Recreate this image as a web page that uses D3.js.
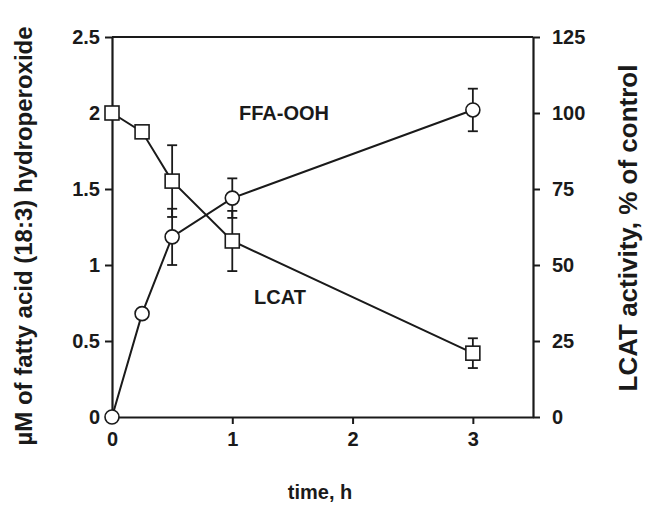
<!DOCTYPE html>
<html>
<head>
<meta charset="utf-8">
<script src="https://cdn.jsdelivr.net/npm/d3@7/dist/d3.min.js"></script>
<style>
  html, body { margin: 0; padding: 0; background: #fff; }
  svg text { font-family: "Liberation Sans", Arial, Helvetica, sans-serif; font-weight: bold; fill: #1a1a1a; }
</style>
</head>
<body>
<svg id="chart" width="647" height="510"></svg>
<script>
// ---- data ----
const time = [0, 0.25, 0.5, 1, 3];
const ffaOOH = [0, 0.68, 1.185, 1.44, 2.02];          // left axis, µM
const ffaErr = [null, null, 0.185, 0.13, 0.14];
const lcat = [100, 93.8, 77.6, 57.9, 21];               // right axis, % of control
const lcatErr = [null, null, 11.8, 9.9, 4.9];
const xTicks = [0, 1, 2, 3];
const yLeftTicks = [0, 0.5, 1, 1.5, 2, 2.5];
const yLeftLabels = ["0", "0.5", "1", "1.5", "2", "2.5"];
const yRightTicks = [0, 25, 50, 75, 100, 125];

const svg = d3.select("#chart");
const L = 112, R = 533, T = 37, B = 417;
const x = d3.scaleLinear().domain([0, 3.5]).range([L, R]);
const yL = d3.scaleLinear().domain([0, 2.5]).range([B, T]);
const yR = d3.scaleLinear().domain([0, 125]).range([B, T]);
const ink = "#1a1a1a";

// frame top line
svg.append("line").attr("x1", L).attr("x2", R).attr("y1", T).attr("y2", T)
  .attr("stroke", ink).attr("stroke-width", 2.2);

function styleAxis(g) {
  g.select(".domain").attr("stroke", ink).attr("stroke-width", 2.2);
  g.selectAll(".tick line").attr("stroke", ink).attr("stroke-width", 2);
  g.selectAll(".tick text").attr("fill", ink).style("font-size", "20px").style("font-weight", "bold");
}

svg.append("g").attr("transform", `translate(0,${B})`)
  .call(d3.axisBottom(x).tickValues(xTicks).tickFormat(d3.format("d")).tickSizeInner(7).tickSizeOuter(0).tickPadding(8))
  .call(styleAxis);

svg.append("g").attr("transform", `translate(${L},0)`)
  .call(d3.axisLeft(yL).tickValues(yLeftTicks).tickFormat((d, i) => yLeftLabels[i]).tickSizeInner(7).tickSizeOuter(0).tickPadding(5))
  .call(styleAxis);

svg.append("g").attr("transform", `translate(${R},0)`)
  .call(d3.axisRight(yR).tickValues(yRightTicks).tickFormat(d3.format("d")).tickSizeInner(7).tickSizeOuter(0).tickPadding(12))
  .call(styleAxis);

// lines
const ffaPts = time.map((t, i) => ({ t, v: ffaOOH[i], e: ffaErr[i] }));
const lcatPts = time.map((t, i) => ({ t, v: lcat[i], e: lcatErr[i] }));

svg.append("path").datum(ffaPts)
  .attr("d", d3.line().x(d => x(d.t)).y(d => yL(d.v)))
  .attr("fill", "none").attr("stroke", ink).attr("stroke-width", 2);
svg.append("path").datum(lcatPts)
  .attr("d", d3.line().x(d => x(d.t)).y(d => yR(d.v)))
  .attr("fill", "none").attr("stroke", ink).attr("stroke-width", 2);

// error bars
function errBars(pts, scale) {
  const g = svg.append("g").attr("stroke", ink).attr("stroke-width", 1.8);
  pts.filter(d => d.e != null).forEach(d => {
    const cx = x(d.t);
    const lo = scale(d.v - d.e), hi = scale(d.v + d.e);
    g.append("line").attr("x1", cx).attr("x2", cx).attr("y1", lo).attr("y2", hi);
    g.append("line").attr("x1", cx - 5).attr("x2", cx + 5).attr("y1", lo).attr("y2", lo);
    g.append("line").attr("x1", cx - 5).attr("x2", cx + 5).attr("y1", hi).attr("y2", hi);
  });
}
errBars(ffaPts, yL);
errBars(lcatPts, yR);

// markers
svg.append("g").selectAll("rect").data(lcatPts).join("rect")
  .attr("x", d => x(d.t) - 7).attr("y", d => yR(d.v) - 7)
  .attr("width", 14).attr("height", 14)
  .attr("fill", "#fff").attr("stroke", ink).attr("stroke-width", 1.6);
svg.append("g").selectAll("circle").data(ffaPts).join("circle")
  .attr("cx", d => x(d.t)).attr("cy", d => yL(d.v)).attr("r", 7)
  .attr("fill", "#fff").attr("stroke", ink).attr("stroke-width", 1.6);

// series labels
svg.append("text").attr("x", 284).attr("y", 120).attr("text-anchor", "middle")
  .style("font-size", "20px").text("FFA-OOH");
svg.append("text").attr("x", 280).attr("y", 304).attr("text-anchor", "middle")
  .style("font-size", "20px").text("LCAT");

// axis titles
svg.append("text").attr("x", 320).attr("y", 499).attr("text-anchor", "middle")
  .style("font-size", "20px").text("time, h");
svg.append("text").attr("transform", "translate(32,236) rotate(-90)").attr("text-anchor", "middle")
  .style("font-size", "24px").text("µM of fatty acid (18:3) hydroperoxide");
svg.append("text").attr("transform", "translate(637,228) rotate(-90)").attr("text-anchor", "middle")
  .style("font-size", "26px").text("LCAT activity, % of control");
</script>
</body>
</html>
